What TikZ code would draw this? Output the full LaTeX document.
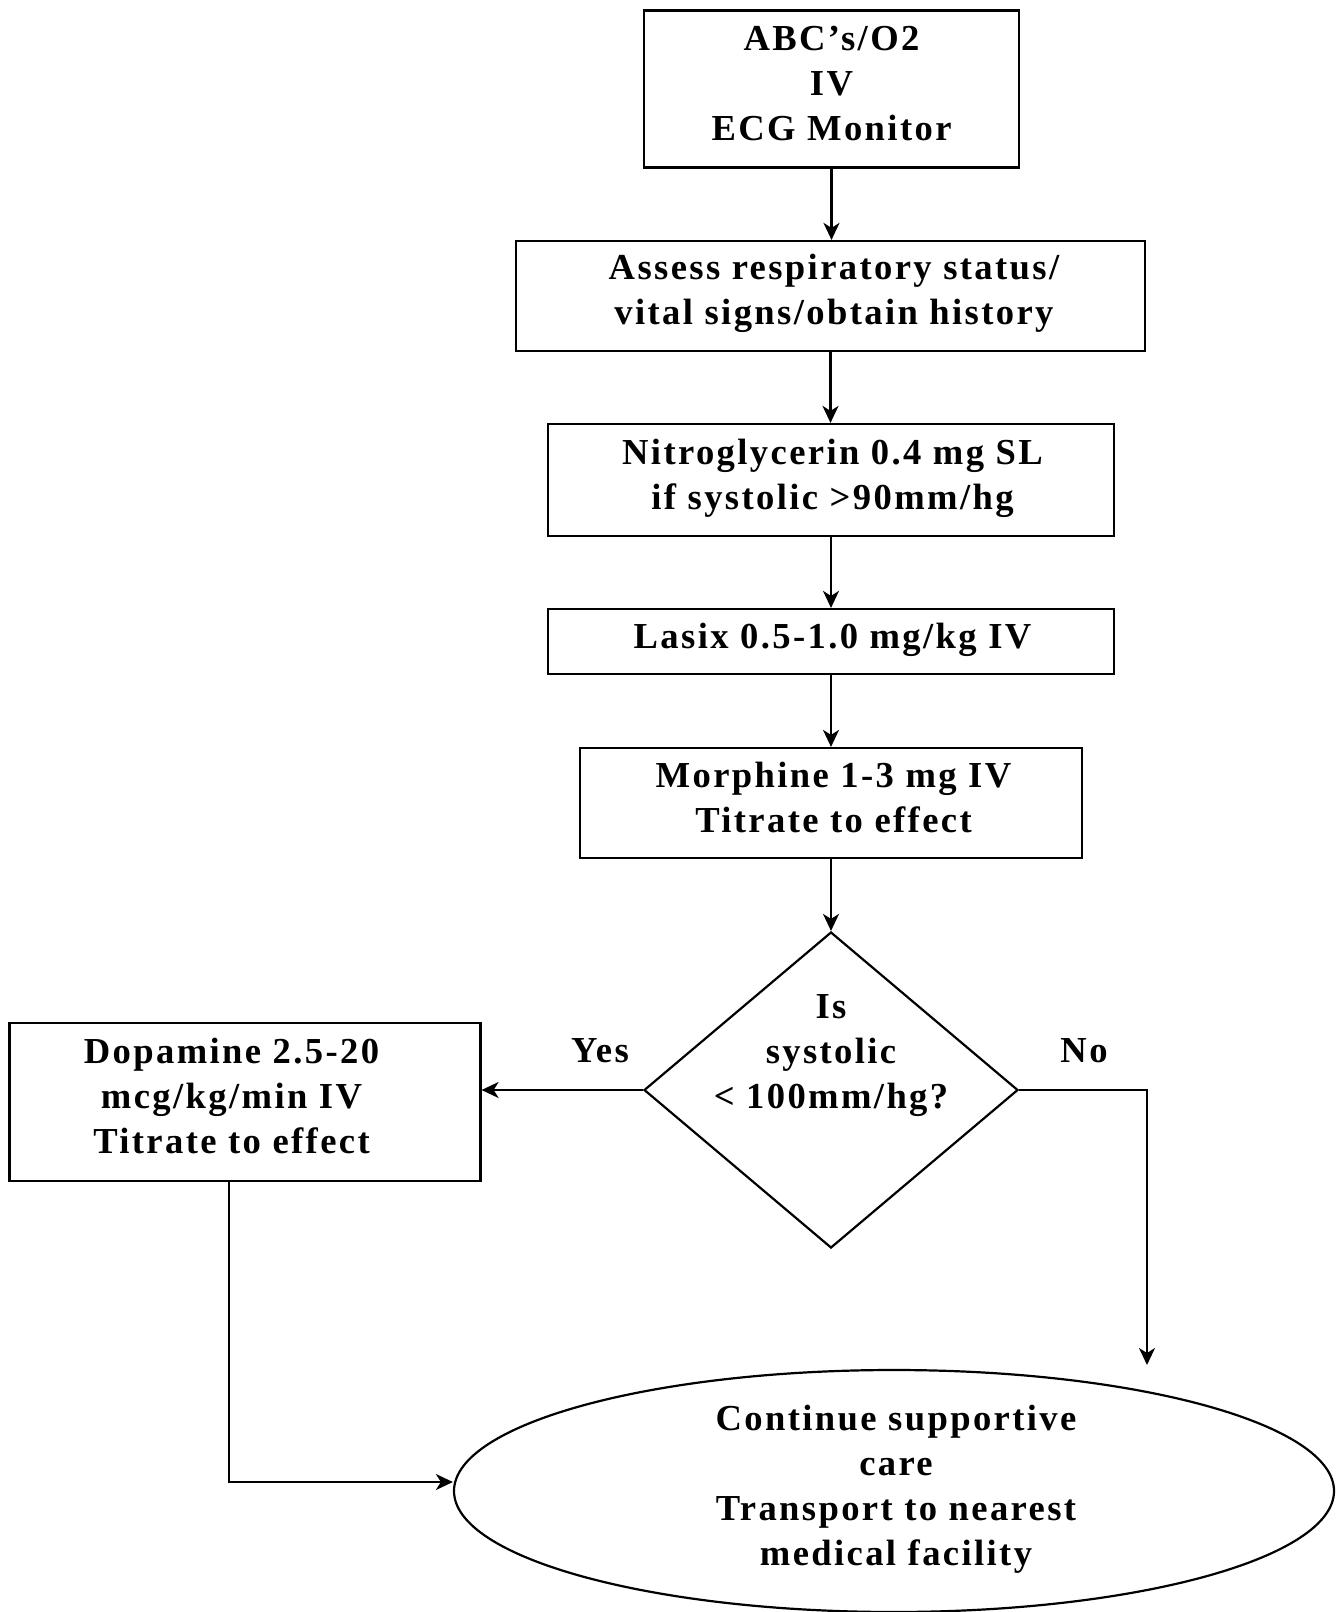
\documentclass[tikz,border=0pt]{standalone}
\usepackage{fontspec}
\setmainfont{Liberation Serif}[LetterSpace=6.5]
\usetikzlibrary{shapes.geometric,arrows.meta,calc}

\begin{document}
\begin{tikzpicture}[x=0.5pt,y=-0.5pt,
  every node/.style={font=\fontsize{18.3pt}{22.5pt}\selectfont\bfseries, align=center},
  stepbox/.style={draw, line width=1.1pt, inner sep=0pt},
  decision/.style={draw, diamond, line width=1.1pt, inner sep=0pt,
    minimum width=187pt, minimum height=158pt},
  terminal/.style={draw, ellipse, line width=1.1pt, inner sep=0pt,
    minimum width=440pt, minimum height=121pt},
  arr/.style={line width=1.1pt, -{Stealth[length=8.5pt,width=8pt,inset=2.5pt]}}]

\useasboundingbox (0,0) rectangle (1338,1612);

% main column of steps (frames, then their texts)
\node[stepbox, minimum width=187.5pt, minimum height=78.5pt] (abc) at (831.5,89) {};
\node (abctext) at (831.5,84) {ABC’s/O2\\IV\\ECG Monitor};

\node[stepbox, minimum width=314.5pt, minimum height=55pt] (assess) at (830.5,296) {};
\node (assesstext) at (834,293.5) {Assess respiratory status/\\vital signs/obtain history};

\node[stepbox, minimum width=283pt, minimum height=56pt] (nitro) at (831,480) {};
\node (nitrotext) at (832.5,478.5) {Nitroglycerin 0.4 mg SL\\if systolic >90mm/hg};

\node[stepbox, minimum width=283pt, minimum height=32.5pt] (lasix) at (831,641.5) {};
\node (lasixtext) at (832.5,639.5) {Lasix 0.5-1.0 mg/kg IV};

\node[stepbox, minimum width=251pt, minimum height=55pt] (morph) at (831,803) {};
\node (morphtext) at (833.5,797.5) {Morphine 1-3 mg IV\\Titrate to effect};

% decision
\node[decision] (dec) at (831,1090) {};
\node (dectext) at (831,1056) {Is\\systolic\\< 100mm/hg?};

% branch boxes
\node[stepbox, minimum width=235.5pt, minimum height=79pt] (dopa) at (245,1102) {};
\node (dopatext) at (231.5,1095.5) {Dopamine 2.5-20\\mcg/kg/min IV\\Titrate to effect};

\node[terminal] (care) at (894,1491) {};
\node (caretext) at (896,1489.5)
  {Continue supportive\\care\\Transport to nearest\\medical facility};

\node (yes) at (600,1051) {Yes};
\node (no) at (1084,1051) {No};

\coordinate (noend) at (1147,1365);

% connectors
\draw[arr] (abc.south) -- (abc.south |- assess.north);
\draw[arr] (assess.south) -- (assess.south |- nitro.north);
\draw[arr] (nitro.south) -- (nitro.south |- lasix.north);
\draw[arr] (lasix.south) -- (lasix.south |- morph.north);
\draw[arr] (morph.south) -- (morph.south |- dec.north);
\draw[arr] (dec.west) -- (dec.west -| dopa.east);
\draw[arr] (dec.east) -| (noend);
\draw[arr] ([xshift=-8pt]dopa.south) |- ([yshift=4.5pt]care.west);

\end{tikzpicture}
\end{document}
